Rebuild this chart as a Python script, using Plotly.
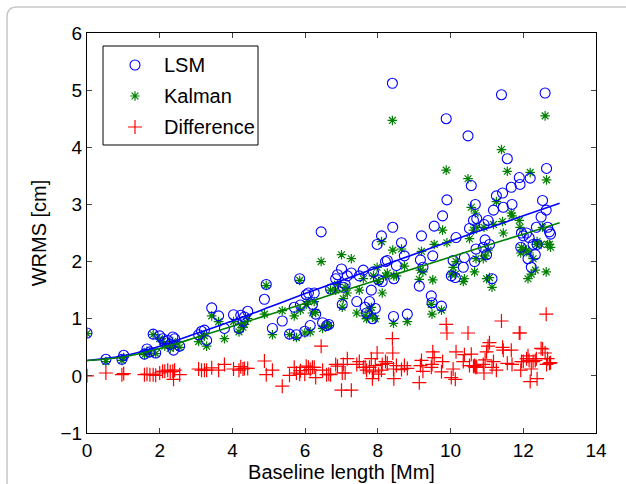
import plotly.graph_objects as go

baseline = [0.0, 0.52, 0.96, 1.01, 1.58, 1.65, 1.73, 1.82, 1.89, 2.0, 2.08, 2.14, 2.22, 2.29, 2.36, 2.38, 2.41, 2.55,
            3.07, 3.15, 3.23, 3.29, 3.43, 3.62, 3.78, 4.03, 4.18, 4.23, 4.29, 4.33, 4.42, 4.88, 4.93, 5.10, 5.37,
            5.57, 5.70, 5.76, 5.85, 5.87, 5.99, 6.03, 6.09, 6.14, 6.20, 6.25, 6.29, 6.44, 6.48, 6.59, 6.65, 6.70,
            6.84, 6.89, 7.00, 7.02, 7.05, 7.10, 7.16, 7.27, 7.42, 7.49, 7.60, 7.65, 7.69, 7.77, 7.82, 7.85, 7.88,
            7.93, 7.98, 8.02, 8.10, 8.12, 8.21, 8.26, 8.40, 8.41, 8.43, 8.44, 8.51, 8.65, 8.73, 8.81, 9.14, 9.17,
            9.20, 9.24, 9.47, 9.49, 9.51, 9.55, 9.75, 9.78, 9.88, 9.90, 10.02, 10.07, 10.13, 10.15, 10.35, 10.38,
            10.48, 10.52, 10.57, 10.63, 10.66, 10.68, 10.70, 10.72, 10.90, 10.92, 10.95, 10.99, 11.03, 11.07,
            11.14, 11.18, 11.26, 11.40, 11.43, 11.45, 11.56, 11.67, 11.69, 11.89, 11.91, 11.93, 11.95, 12.00,
            12.09, 12.13, 12.16, 12.19, 12.22, 12.27, 12.33, 12.36, 12.38, 12.49, 12.53, 12.60, 12.63, 12.64,
            12.67, 12.72, 12.75]
lsm = [0.75, 0.29, 0.29, 0.36, 0.38, 0.47, 0.42, 0.73, 0.40, 0.70, 0.65, 0.60, 0.62, 0.55, 0.68, 0.45, 0.65, 0.52,
       0.72, 0.78, 0.80, 0.62, 1.19, 1.05, 0.83, 1.07, 0.83, 1.06, 0.95, 1.03, 1.13, 1.34, 1.60, 0.83, 0.96,
       0.73, 1.20, 0.72, 1.70, 1.24, 0.78, 1.42, 1.45, 0.88, 1.25, 1.45, 1.08, 2.52, 0.93, 0.88, 0.90, 1.52,
       1.70, 1.77, 1.87, 1.25, 1.55, 1.60, 1.75, 1.80, 1.30, 1.75, 1.85, 1.20, 1.10, 1.30, 1.50, 1.00, 1.82,
       1.18, 2.30, 1.68, 2.45, 1.65, 2.00, 2.02, 5.12, 2.60, 1.04, 1.70, 1.93, 2.33, 2.10, 1.08, 1.57, 2.03,
       2.45, 1.90, 1.40, 1.28, 2.10, 2.62, 1.22, 2.80, 4.50, 3.08, 1.75, 2.02, 1.72, 2.42, 1.90, 2.07,
       4.20, 2.58, 3.33, 2.72, 2.00, 3.00, 2.22, 2.75, 2.25, 2.65, 2.38, 2.12, 2.72, 2.30,
       1.70, 2.90, 3.15, 4.92, 3.20, 2.95, 3.80, 3.30, 3.00, 3.47, 3.35, 2.25, 2.50, 2.45,
       2.50, 2.05, 2.42, 3.46, 1.90, 2.30, 2.12, 2.60, 2.30, 2.78, 3.07, 4.95, 2.90, 3.63,
       2.60, 2.52, 2.48]
kalman = [0.74, 0.25, 0.27, 0.32, 0.37, 0.43, 0.40, 0.72, 0.39, 0.65, 0.60, 0.52, 0.54, 0.48, 0.60, 0.51, 0.55, 0.50,
          0.60, 0.68, 0.70, 0.52, 1.05, 0.95, 0.65, 0.95, 0.77, 0.90, 0.85, 0.90, 1.00, 1.08, 1.58, 0.72, 1.14,
          0.72, 1.05, 0.67, 1.67, 1.15, 0.75, 1.25, 1.30, 0.77, 1.10, 1.30, 1.11, 2.00, 0.83, 0.87, 0.88, 1.50,
          1.50, 1.60, 2.12, 1.20, 1.35, 1.55, 1.45, 2.05, 1.10, 1.50, 1.70, 1.05, 1.00, 1.15, 1.20, 1.05, 1.75,
          1.00, 1.90, 1.65, 2.35, 1.45, 1.75, 1.80, 4.47, 2.20, 0.92, 1.75, 1.75, 2.22, 1.92, 0.95, 1.69, 1.85,
          2.18, 1.82, 1.25, 1.08, 1.68, 2.30, 1.15, 2.55, 3.60, 2.33, 1.78, 1.90, 1.78, 2.00, 1.65, 1.70,
          3.45, 2.40, 2.95, 2.55, 1.82, 2.85, 2.05, 2.60, 2.05, 2.60, 2.10, 1.70, 2.20, 1.72,
          1.55, 2.65, 3.05, 3.96, 2.70, 2.50, 3.58, 2.85, 2.80, 2.72, 2.60, 2.15, 2.25, 2.20,
          2.20, 1.70, 2.15, 3.56, 1.78, 2.05, 1.85, 2.30, 2.35, 2.30, 2.60, 4.55, 1.82, 3.43,
          2.30, 2.30, 2.25]
difference = [0.0, 0.05, 0.02, 0.04, 0.02, 0.03, 0.02, 0.02, 0.01, 0.05, 0.08, 0.08, 0.10, 0.07, 0.08, -0.06, 0.10, 0.02,
              0.12, 0.10, 0.10, 0.10, 0.14, 0.10, 0.20, 0.12, 0.10, 0.16, 0.12, 0.13, 0.13, 0.26, 0.02, 0.10, -0.18,
              0.01, 0.15, 0.05, 0.03, 0.09, 0.03, 0.17, 0.15, 0.11, 0.15, 0.15, -0.03, 0.52, 0.10, 0.02, 0.03, 0.02,
              0.20, 0.17, -0.25, 0.05, 0.20, 0.05, 0.30, -0.25, 0.20, 0.25, 0.15, 0.15, 0.10, 0.15, 0.30, -0.05, 0.07,
              0.18, 0.40, 0.03, 0.10, 0.20, 0.25, 0.22, 0.65, 0.40, 0.12, -0.05, 0.18, 0.11, 0.18, 0.13, -0.12, 0.18,
              0.27, 0.08, 0.15, 0.20, 0.42, 0.32, 0.07, 0.25, 0.90, 0.75, -0.03, 0.12, -0.06, 0.42, 0.25, 0.37,
              0.75, 0.18, 0.38, 0.17, 0.18, 0.15, 0.17, 0.15, 0.20, 0.05, 0.28, 0.42, 0.52, 0.58,
              0.15, 0.25, 0.10, 0.96, 0.50, 0.45, 0.22, 0.45, 0.20, 0.75, 0.75, 0.10, 0.25, 0.25,
              0.30, 0.35, 0.27, -0.10, 0.12, 0.25, 0.27, 0.30, -0.05, 0.48, 0.47, 0.40, 1.08, 0.20,
              0.30, 0.22, 0.23]

fit_x = [0, 1, 2, 3, 4, 5, 6, 7, 8, 9, 10, 11, 12, 13]
fit_lsm = [0.27, 0.35, 0.52, 0.74, 0.96, 1.20, 1.44, 1.67, 1.90, 2.13, 2.36, 2.58, 2.80, 3.02]
fit_kalman = [0.27, 0.33, 0.48, 0.67, 0.87, 1.07, 1.27, 1.48, 1.68, 1.88, 2.08, 2.28, 2.48, 2.68]

series_names = ["LSM", "Kalman", "Difference"]

BLUE = "#0000ff"
GREEN = "#008000"
RED = "#ff0000"
FONT = "Liberation Sans"

MK = {
    "LSM": dict(symbol="circle-open", size=10, color=BLUE, line=dict(color=BLUE, width=1.1)),
    "Kalman": dict(symbol="asterisk-open", size=8, color=GREEN, line=dict(color=GREEN, width=1.2)),
    "Difference": dict(symbol="cross-thin-open", size=10, color=RED, line=dict(color=RED, width=1.2)),
}

fig = go.Figure()
fig.add_trace(go.Scatter(x=baseline, y=difference, mode="markers", name="Difference", showlegend=False,
                         marker=MK["Difference"]))
fig.add_trace(go.Scatter(x=baseline, y=kalman, mode="markers", name="Kalman", showlegend=False,
                         marker=MK["Kalman"]))
fig.add_trace(go.Scatter(x=baseline, y=lsm, mode="markers", name="LSM", showlegend=False,
                         marker=MK["LSM"]))
fig.add_trace(go.Scatter(x=fit_x, y=fit_lsm, mode="lines", line=dict(color=BLUE, width=1.6, shape="spline"),
                         showlegend=False))
fig.add_trace(go.Scatter(x=fit_x, y=fit_kalman, mode="lines", line=dict(color=GREEN, width=1.6, shape="spline"),
                         showlegend=False))

W, H = 626, 484
ml, mr, mt, mb = 87, 30, 33, 51
pw, ph = W - ml - mr, H - mt - mb

# manual legend on an overlay axis measured in pixels
leg_x = 135
leg_ys = [65, 96, 127]
for name, ly in zip(series_names, leg_ys):
    fig.add_trace(go.Scatter(x=[leg_x], y=[ly], mode="markers", marker=MK[name], showlegend=False,
                             xaxis="x2", yaxis="y2", hoverinfo="skip"))

annotations = [dict(x=162, y=ly, xref="x2", yref="y2", text=name, showarrow=False, xanchor="left",
                    yanchor="middle", font=dict(size=20, family=FONT, color="black"))
               for name, ly in zip(series_names, leg_ys)]


def px_x(p):
    return (p - ml) / pw


def px_y(p):
    return 1 - (p - mt) / ph


x0, x1, y0, y1 = px_x(7), px_x(640), px_y(7), px_y(500)
rx, ry = 10 / pw, 10 / ph
path = f"M {x0} {y1} L {x0} {y0 - ry} Q {x0} {y0} {x0 + rx} {y0} L {x1} {y0}"

fig.update_layout(
    width=W, height=H,
    margin=dict(l=ml, r=mr, t=mt, b=mb, autoexpand=False),
    paper_bgcolor="white", plot_bgcolor="white",
    font=dict(family=FONT, size=19, color="black"),
    showlegend=False,
    annotations=annotations,
    xaxis2=dict(overlaying="x", range=[ml, ml + pw], visible=False, fixedrange=True),
    yaxis2=dict(overlaying="y", range=[mt + ph, mt], visible=False, fixedrange=True),
    shapes=[
        dict(type="path", path=path, xref="paper", yref="paper",
             line=dict(color="#c8c8c8", width=1.5), layer="below"),
        dict(type="rect", xref="x2", yref="y2", x0=103, x1=258, y0=46, y1=145,
             line=dict(color="black", width=1), fillcolor="white", layer="below"),
    ],
    xaxis=dict(range=[0, 14], tickvals=[0, 2, 4, 6, 8, 10, 12, 14], ticks="inside", ticklen=5,
               showline=True, linecolor="black", linewidth=1, mirror="ticks", showgrid=False,
               zeroline=False, automargin=False,
               title=dict(text="Baseline length [Mm]", standoff=0, font=dict(size=20)),
               tickfont=dict(size=19)),
    yaxis=dict(range=[-1, 6], tickvals=[-1, 0, 1, 2, 3, 4, 5, 6], ticks="inside", ticklen=5,
               showline=True, linecolor="black", linewidth=1, mirror="ticks", showgrid=False,
               zeroline=False, automargin=False,
               title=dict(text="WRMS [cm]", standoff=8, font=dict(size=20)),
               tickfont=dict(size=19)),
)

fig.write_html("out.html", config={"displayModeBar": False},
               post_script="document.body.style.margin='0';document.body.style.overflow='hidden';")
